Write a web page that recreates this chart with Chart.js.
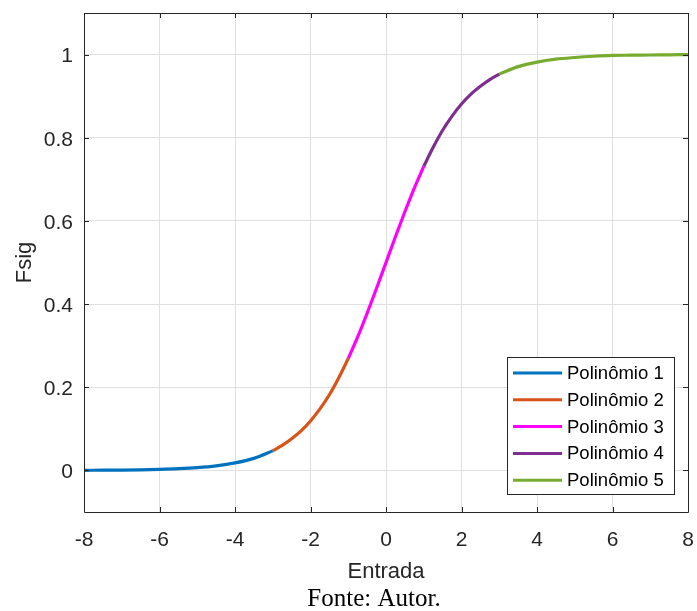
<!DOCTYPE html>
<html>
<head>
<meta charset="utf-8">
<script src="https://cdn.jsdelivr.net/npm/chart.js@4/dist/chart.umd.min.js"></script>
<style>
  body { margin: 0; background: #fff; }
</style>
</head>
<body>
<canvas id="sig" width="697" height="611"></canvas>
<script>
// values, one array per polynomial piece
var x1 = [-8, -7.5, -7, -6.5, -6, -5.5, -5, -4.5, -4, -3.5, -3];
var y1 = [0.0003, 0.0006, 0.0009, 0.0015, 0.0025, 0.0041, 0.0067, 0.011, 0.018, 0.029, 0.047];
var x2 = [-3, -2.75, -2.5, -2.25, -2, -1.75, -1.5, -1.25, -1];
var y2 = [0.047, 0.06, 0.076, 0.095, 0.119, 0.148, 0.182, 0.223, 0.269];
var x3 = [-1, -0.75, -0.5, -0.25, 0, 0.25, 0.5, 0.75, 1];
var y3 = [0.269, 0.321, 0.378, 0.438, 0.5, 0.562, 0.622, 0.679, 0.731];
var x4 = [1, 1.25, 1.5, 1.75, 2, 2.25, 2.5, 2.75, 3];
var y4 = [0.731, 0.777, 0.818, 0.852, 0.881, 0.905, 0.924, 0.94, 0.953];
var x5 = [3, 3.5, 4, 4.5, 5, 5.5, 6, 6.5, 7, 7.5, 8];
var y5 = [0.953, 0.971, 0.982, 0.989, 0.993, 0.996, 0.998, 0.9985, 0.999, 0.9995, 1.0];

var labels = ['Polinômio 1', 'Polinômio 2', 'Polinômio 3', 'Polinômio 4', 'Polinômio 5'];
var colors = ['#0072BD', '#D95319', '#FF00FF', '#7E2F8E', '#77AC30'];
var xTicks = [-8, -6, -4, -2, 0, 2, 4, 6, 8];
var yTicks = [0, 0.2, 0.4, 0.6, 0.8, 1];

var axisColor = '#262626';
var sans = "'Liberation Sans', Arial, sans-serif";

function pts(xs, ys) {
  return xs.map(function(x, i) { return { x: x, y: ys[i] }; });
}

var pieces = [[x1, y1], [x2, y2], [x3, y3], [x4, y4], [x5, y5]];
var datasets = pieces.map(function(p, i) {
  return {
    label: labels[i],
    data: pts(p[0], p[1]),
    borderColor: colors[i],
    backgroundColor: colors[i],
    borderWidth: 3.2,
    pointRadius: 0,
    showLine: true,
    cubicInterpolationMode: 'monotone'
  };
});

function noPad(s) {
  s.paddingLeft = 0; s.paddingRight = 0; s.paddingTop = 0; s.paddingBottom = 0;
}

// frame, inward ticks, legend box and the source note
var extras = {
  id: 'extras',
  afterDraw: function(chart) {
    var ctx = chart.ctx;
    var a = chart.chartArea;
    var sx = chart.scales.x, sy = chart.scales.y;
    var tl = 5;
    ctx.save();
    ctx.strokeStyle = axisColor;
    ctx.lineWidth = 1;
    ctx.beginPath();
    ctx.rect(Math.round(a.left) + 0.5, Math.round(a.top) + 0.5,
             Math.round(a.right - a.left), Math.round(a.bottom - a.top));
    ctx.stroke();
    ctx.beginPath();
    xTicks.forEach(function(v) {
      var px = Math.round(sx.getPixelForValue(v)) + 0.5;
      ctx.moveTo(px, a.bottom); ctx.lineTo(px, a.bottom - tl);
      ctx.moveTo(px, a.top); ctx.lineTo(px, a.top + tl);
    });
    yTicks.forEach(function(v) {
      var py = Math.round(sy.getPixelForValue(v)) + 0.5;
      ctx.moveTo(a.left, py); ctx.lineTo(a.left + tl, py);
      ctx.moveTo(a.right, py); ctx.lineTo(a.right - tl, py);
    });
    ctx.stroke();

    // legend
    var bx = 507, by = 357, bw = 167, bh = 137;
    ctx.fillStyle = '#fff';
    ctx.fillRect(bx, by, bw, bh);
    ctx.strokeStyle = axisColor;
    ctx.strokeRect(bx + 0.5, by + 0.5, bw, bh);
    ctx.font = '18.5px ' + sans;
    ctx.textBaseline = 'middle';
    ctx.textAlign = 'left';
    chart.data.datasets.forEach(function(ds, i) {
      var yy = by + 16 + i * 26.8;
      ctx.strokeStyle = ds.borderColor;
      ctx.lineWidth = 3;
      ctx.beginPath();
      ctx.moveTo(bx + 6, yy); ctx.lineTo(bx + 55, yy);
      ctx.stroke();
      ctx.fillStyle = '#000';
      ctx.fillText(ds.label, bx + 60, yy + 1);
    });

    ctx.font = "25px 'Liberation Serif', 'Times New Roman', serif";
    ctx.fillStyle = '#000';
    ctx.textAlign = 'center';
    ctx.fillText('Fonte: Autor.', 374, 599);
    ctx.restore();
  }
};

new Chart(document.getElementById('sig'), {
  type: 'scatter',
  data: { datasets: datasets },
  options: {
    responsive: false,
    animation: false,
    layout: { padding: { top: 13, right: 9, left: 0, bottom: 0 } },
    plugins: { legend: { display: false }, tooltip: { enabled: false } },
    scales: {
      x: {
        type: 'linear',
        min: -8, max: 8,
        afterBuildTicks: function(s) { s.ticks = xTicks.map(function(v) { return { value: v }; }); },
        afterFit: function(s) { s.height = 99; noPad(s); },
        grid: { color: '#e0e0e0', drawTicks: false },
        border: { display: false },
        ticks: { color: axisColor, padding: 16, maxRotation: 0, font: { family: sans, size: 21 },
                 callback: function(v) { return String(v); } },
        title: { display: true, text: 'Entrada', color: axisColor,
                 font: { family: sans, size: 22 }, padding: { top: 0, bottom: 26 } }
      },
      y: {
        type: 'linear',
        min: -0.1, max: 1.1,
        afterBuildTicks: function(s) { s.ticks = yTicks.map(function(v) { return { value: v }; }); },
        afterFit: function(s) { s.width = 84; noPad(s); },
        grid: { color: '#e0e0e0', drawTicks: false },
        border: { display: false },
        ticks: { color: axisColor, padding: 11, labelOffset: 2, font: { family: sans, size: 21 },
                 callback: function(v) { return String(v); } },
        title: { display: true, text: 'Fsig', color: axisColor,
                 font: { family: sans, size: 22 }, padding: { top: 12, bottom: 0 } }
      }
    }
  },
  plugins: [extras]
});
</script>
</body>
</html>
